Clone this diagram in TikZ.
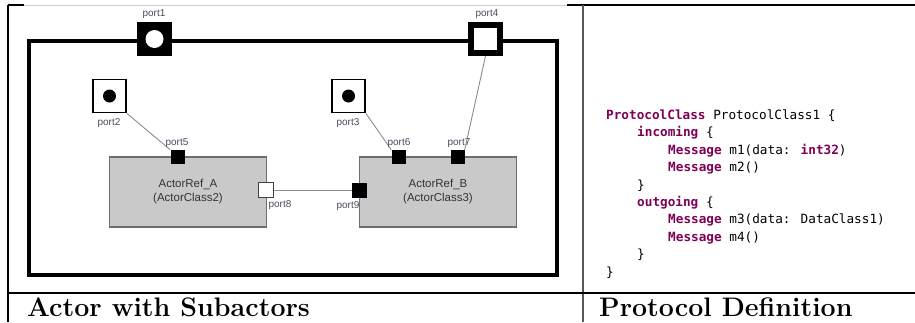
\documentclass[tikz,border=0pt]{standalone}
\usepackage{fontspec}
\setmainfont{Latin Modern Roman}
\newfontfamily\diagfont{Liberation Sans}
\newfontfamily\codefont{DejaVu Sans Mono}
\definecolor{kw}{RGB}{127,0,85}
\definecolor{lbl}{RGB}{75,75,95}
\definecolor{boxfill}{RGB}{201,201,201}
\definecolor{boxline}{RGB}{110,110,110}
\definecolor{wire}{RGB}{140,140,140}
\definecolor{imgedge}{RGB}{205,205,205}
\tikzset{
  portlabel/.style={font=\diagfont\fontsize{10}{11}\selectfont, text=lbl, inner sep=0pt},
  bigport/.style={rectangle, inner sep=0pt, minimum width=35, minimum height=34},
  relayport/.style={rectangle, draw=black, line width=1.8, fill=white, inner sep=0pt, minimum size=33},
  smallport/.style={rectangle, fill=black, inner sep=0pt, minimum size=14},
  actorref/.style={rectangle, draw=boxline, line width=1.2, fill=boxfill,
     minimum width=157, minimum height=70, align=center, inner sep=0pt,
     font=\diagfont\fontsize{11.5}{14}\selectfont, text=black!80},
  wireline/.style={draw=wire, line width=0.9},
  codeline/.style={anchor=base west, inner sep=0pt, font=\codefont\fontsize{12.7}{14}\selectfont},
  caption/.style={anchor=base west, inner sep=0pt, font=\fontsize{26.8}{28}\selectfont\bfseries},
}
\newcommand{\kwd}[1]{\textcolor{kw}{\bfseries #1}}
\begin{document}
\begin{tikzpicture}[x=1pt,y=-1pt]
\useasboundingbox (0,0) rectangle (915,322);
\fill[white] (0,0) rectangle (915,322);

% table rules
\draw[line width=1.2] (8,5) -- (24,5);
\draw[imgedge, line width=1] (24,5) -- (567,5);
\draw[line width=1.2] (567,5) -- (915,5);
\draw[line width=1.2] (8,5) -- (8,322);
\draw[black!65, line width=1.2] (583,5) -- (583,322);
\draw[line width=1.2] (8,293) -- (915,293);

% actor frame
\draw[line width=4] (29,41) rectangle (557,275);

% end ports on the frame
\node[bigport, fill=black] (port1) at (154.5,39) {};
\fill[white] (port1.center) circle (9);
\node[bigport, draw=black, line width=6, fill=white, minimum width=29, minimum height=28] (port4) at (485.5,39) {};

% internal end ports
\node[relayport] (port2) at (109.5,96) {};
\fill[black] (port2.center) circle (6.5);
\node[relayport] (port3) at (348.5,96) {};
\fill[black] (port3.center) circle (6.5);

% actor references
\node[actorref] (refA) at (188,192) {ActorRef\_A\\(ActorClass2)};
\node[actorref] (refB) at (438,192) {ActorRef\_B\\(ActorClass3)};

% ports of the actor references
\node[smallport] (port5) at (177.5,157) {};
\node[smallport] (port6) at (398.5,157) {};
\node[smallport] (port7) at (457.5,157) {};
\node[rectangle, draw=black!75, line width=0.9, fill=white, inner sep=0pt, minimum size=15] (port8) at (266,190) {};
\node[smallport, minimum size=15] (port9) at (359.5,190) {};

% bindings
\draw[wireline] (port2.south east) -- (port5.north west);
\draw[wireline] (port3.south east) -- (port6.north west);
\draw[wireline] (port4.south) -- (port7.north east);
\draw[wireline] (port8.east) -- (port9.west);

% port labels
\node[portlabel] (l1) at (154,14) {port1};
\node[portlabel] (l4) at (487,14) {port4};
\node[portlabel] (l2) at (109,123) {port2};
\node[portlabel] (l3) at (348,123) {port3};
\node[portlabel] (l5) at (177,143) {port5};
\node[portlabel] (l6) at (399,143) {port6};
\node[portlabel] (l7) at (459,143) {port7};
\node[portlabel] (l8) at (280,205) {port8};
\node[portlabel] (l9) at (348,206) {port9};

% protocol source
\node[codeline] (c1) at (606,119.5) {\kwd{ProtocolClass} ProtocolClass1 \{};
\node[codeline] (c2) at (637,136.9) {\kwd{incoming} \{};
\node[codeline] (c3) at (668,154.3) {\kwd{Message} m1(data: \kwd{int32})};
\node[codeline] (c4) at (668,171.7) {\kwd{Message} m2()};
\node[codeline] (c5) at (637,189.1) {\}};
\node[codeline] (c6) at (637,206.5) {\kwd{outgoing} \{};
\node[codeline] (c7) at (668,223.9) {\kwd{Message} m3(data: DataClass1)};
\node[codeline] (c8) at (668,241.3) {\kwd{Message} m4()};
\node[codeline] (c9) at (637,258.7) {\}};
\node[codeline] (c10) at (606,276.1) {\}};

% captions
\node[caption] (capL) at (27,316) {Actor with Subactors};
\node[caption] (capR) at (599,316) {Protocol Definition};
\end{tikzpicture}
\end{document}
